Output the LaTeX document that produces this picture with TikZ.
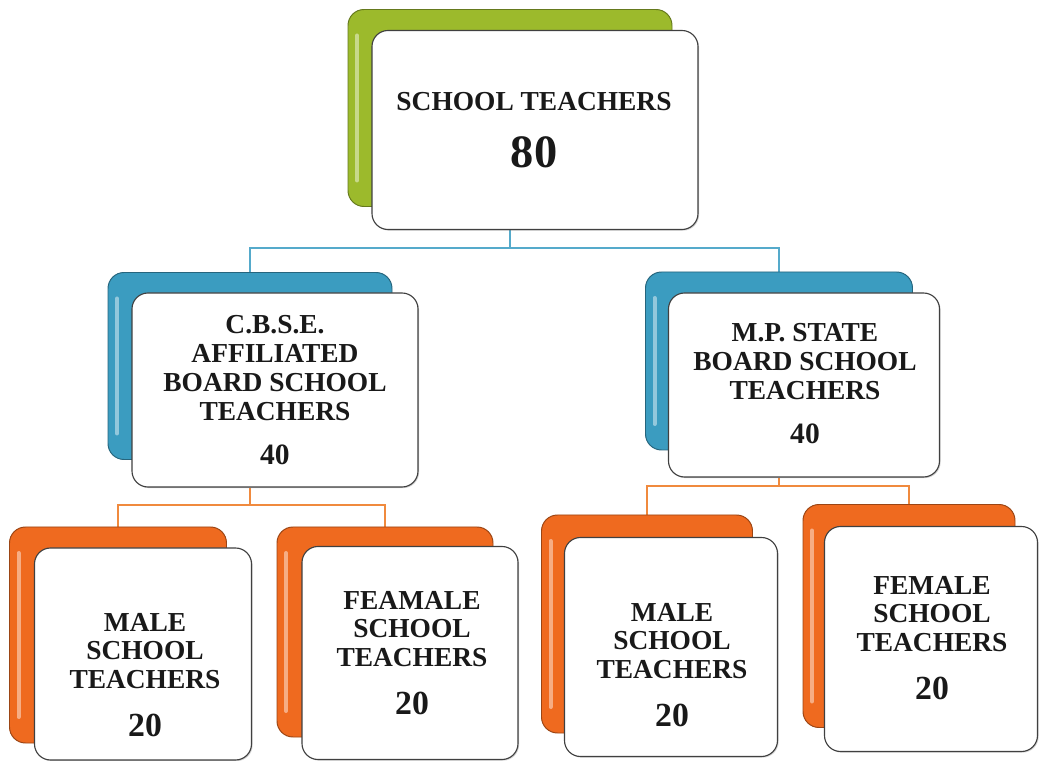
\documentclass[tikz,border=0pt]{standalone}
\usepackage{fontspec}
\setmainfont{Liberation Serif}
\usetikzlibrary{backgrounds, shadows}
\definecolor{leafgreen}{HTML}{9CBA2C}
\definecolor{seablue}{HTML}{3B9CC0}
\definecolor{tangerine}{HTML}{EF6A1F}
\definecolor{linkblue}{HTML}{55AACB}
\definecolor{linkorange}{HTML}{F08A3E}
\newdimen\pxu \pxu=0.025cm

\tikzset{
  backbox/.style={rectangle, rounded corners=16*\pxu, fill=#1, draw=#1!65!black, line width=0.7pt,
    path picture={
      \draw[#1!55!white, line width=4*\pxu, line cap=round]
        ([xshift=9*\pxu, yshift=-26*\pxu]path picture bounding box.north west) --
        ([xshift=9*\pxu, yshift=26*\pxu]path picture bounding box.south west);
    }},
  frontbox/.style={rectangle, rounded corners=16*\pxu, fill=white, draw=black!75, line width=0.8pt,
    drop shadow={shadow xshift=0.8pt, shadow yshift=-0.8pt, opacity=0.35}},
  boxtext/.style={align=center, font=\bfseries\fontsize{19.5}{20.5}\selectfont, text=black!90},
  link/.style={line width=2pt, draw=#1}
}

\begin{document}
\begin{tikzpicture}[x=0.025cm, y=-0.025cm]
  \useasboundingbox (0,0) rectangle (1055,761);

  % top box
  \node[backbox=leafgreen, minimum width=324*\pxu, minimum height=197*\pxu] (topback) at (510,108) {};
  \node[frontbox, minimum width=326*\pxu, minimum height=199*\pxu] (top) at (535,130) {};
  \node[boxtext] (toptext) at (534,130) {SCHOOL TEACHERS\\[17pt]{\fontsize{33}{33}\selectfont 80}};

  % board boxes
  \node[backbox=seablue, minimum width=284*\pxu, minimum height=187*\pxu] (cbseback) at (250,366) {};
  \node[frontbox, minimum width=286*\pxu, minimum height=194*\pxu] (cbse) at (275,390) {};
  \node[boxtext] (cbsetext) at (275,390) {C.B.S.E.\\AFFILIATED\\BOARD SCHOOL\\TEACHERS\\[11pt]{\fontsize{21}{21}\selectfont 40}};

  \node[backbox=seablue, minimum width=267*\pxu, minimum height=178*\pxu] (mpsbback) at (779,361) {};
  \node[frontbox, minimum width=271*\pxu, minimum height=184*\pxu] (mpsb) at (804,385) {};
  \node[boxtext] (mpsbtext) at (805,384) {M.P. STATE\\BOARD SCHOOL\\TEACHERS\\[11pt]{\fontsize{21}{21}\selectfont 40}};

  % male / female boxes
  \node[backbox=tangerine, minimum width=217*\pxu, minimum height=216*\pxu] (male1back) at (118,635) {};
  \node[frontbox, minimum width=217*\pxu, minimum height=212*\pxu] (male1) at (143,654) {};
  \node[boxtext] (male1text) at (145,675) {MALE\\SCHOOL\\TEACHERS\\[13.5pt]{\fontsize{24}{24}\selectfont 20}};

  \node[backbox=tangerine, minimum width=216*\pxu, minimum height=210*\pxu] (female1back) at (385,632) {};
  \node[frontbox, minimum width=216*\pxu, minimum height=213*\pxu] (female1) at (410,653) {};
  \node[boxtext] (female1text) at (412,653) {FEAMALE\\SCHOOL\\TEACHERS\\[13.5pt]{\fontsize{24}{24}\selectfont 20}};

  \node[backbox=tangerine, minimum width=211*\pxu, minimum height=218*\pxu] (male2back) at (647,624) {};
  \node[frontbox, minimum width=213*\pxu, minimum height=219*\pxu] (male2) at (671,647) {};
  \node[boxtext] (male2text) at (672,665) {MALE\\SCHOOL\\TEACHERS\\[13.5pt]{\fontsize{24}{24}\selectfont 20}};

  \node[backbox=tangerine, minimum width=212*\pxu, minimum height=223*\pxu] (female2back) at (909,616) {};
  \node[frontbox, minimum width=213*\pxu, minimum height=225*\pxu] (female2) at (931,639) {};
  \node[boxtext] (female2text) at (932,638) {FEMALE\\SCHOOL\\TEACHERS\\[13.5pt]{\fontsize{24}{24}\selectfont 20}};

  % connectors behind the boxes
  \coordinate (topbar) at (0,248);
  \coordinate (cbsebar) at (0,505);
  \coordinate (mpsbbar) at (0,486);
  \begin{scope}[on background layer]
    \fill[white] (0,0) rectangle (1055,761);
    \draw[link=linkblue] (topback |- top.south) -- (topback |- topbar) -| (cbseback.north);
    \draw[link=linkblue] (topback |- topbar) -| (mpsbback.north);
    \draw[link=linkorange] (cbseback |- cbse.south) -- (cbseback |- cbsebar) -| (male1back.north);
    \draw[link=linkorange] (cbseback |- cbsebar) -| (female1back.north);
    \draw[link=linkorange] (mpsbback |- mpsb.south) -- (mpsbback |- mpsbbar) -| (male2back.north);
    \draw[link=linkorange] (mpsbback |- mpsbbar) -| (female2back.north);
  \end{scope}
\end{tikzpicture}
\end{document}
